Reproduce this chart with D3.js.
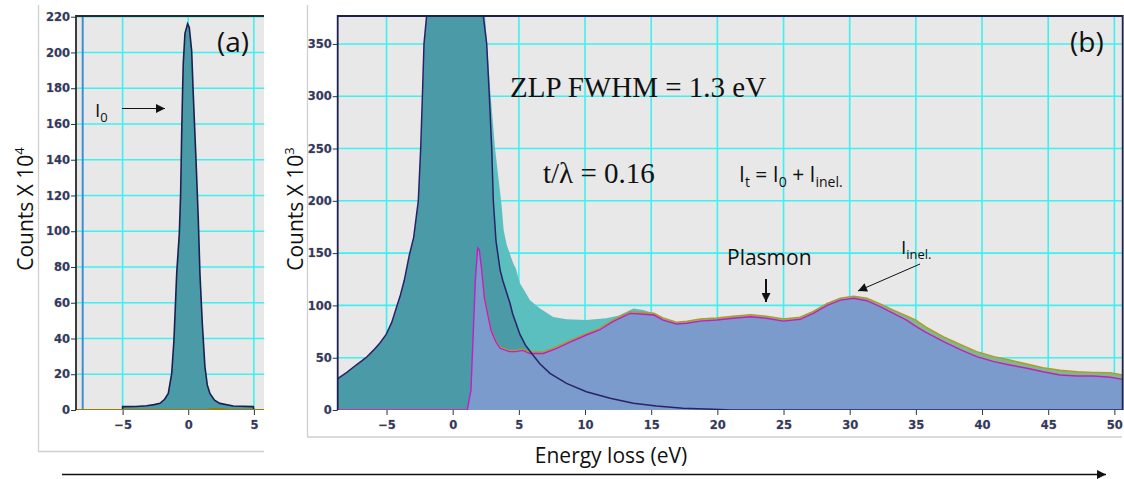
<!DOCTYPE html>
<html>
<head>
<meta charset="utf-8">
<script src="https://cdn.jsdelivr.net/npm/d3@7"></script>
<style>
  body { margin: 0; background: #fff; }
  .lbl { font-family: "Open Sans", sans-serif; fill: #111; }
  .serif { font-family: "Liberation Serif", serif; fill: #111; }
</style>
</head>
<body>
<svg width="1124" height="479"></svg>
<script>
// ---- data: [energy loss eV, counts] ----
// panel (a): zero-loss peak, counts x 10^4
const zlpA = [[-5.0,0],[-5.0,1.9],[-4.0,2.0],[-3.17,2.4],[-2.6,3.0],[-2.15,3.7],[-1.8,6],[-1.52,9.3],
  [-1.26,20.5],[-1.09,39],[-0.88,76.4],[-0.68,98.8],[-0.58,121],[-0.5,154.7],[-0.43,179],[-0.38,194],
  [-0.25,210.7],[-0.05,216],[0.08,214],[0.26,201],[0.38,177],[0.59,140],[0.76,108],[0.89,76.4],
  [1.07,48.5],[1.27,24.2],[1.45,14],[1.65,9.3],[2.0,5.5],[2.41,3.7],[3.43,2.2],[4.95,1.9],[5.0,0]];
const inelA = [[-8.55,0],[1.4,0],[1.8,0.5],[2.6,0.5],[3.0,0],[5.77,0]];
const markerA = -8.04;

// panel (b): counts x 10^3
const zlpB = [[-8.69,30],[-8.0,36],[-7.3,43],[-6.55,50],[-6.0,57],[-5.5,64],[-5.04,72],[-4.6,84],
  [-4.3,96],[-3.95,110],[-3.66,124],[-3.28,148],[-2.95,165],[-2.6,200],[-2.42,250],[-2.29,300],
  [-2.17,350],[-1.97,377],[-1.2,900],[0,2170],[1.2,900],[2.31,377],[2.57,350],[2.77,300],[2.95,250],
  [3.07,200],[3.27,162],[3.58,134],[3.78,124],[4.33,102],[4.53,92],[5.09,72],[5.5,62],[5.97,54],
  [6.6,44],[7.35,35],[8.6,25.5],[10.1,17.5],[11.9,11.2],[13.65,6.4],[15.4,3.8],[17.4,1.6],
  [19.7,0.7],[21,0],[50.63,0]];
const totalB = [[2.0,430],[2.44,377],[2.87,300],[3.2,250],[3.7,195],[3.85,172],[4.08,158],[4.58,140],
  [4.78,135],[5.09,121],[5.29,117],[5.84,105],[6.6,97],[7.6,89],[8.6,86.7],[10.1,86],[11.6,87.7],
  [12.5,90],[13.15,94],[13.65,97],[14.4,95.6],[15.2,92.4],[15.9,87.7],[16.9,83.5],[17.7,84],[18.7,86.5]];
const oliveB = [[-8.69,0],[1.2,0],[1.5,20],[1.7,70],[1.85,120],[2.0,140],[2.15,138],[2.39,110],
  [2.64,93],[2.9,77],[3.27,66],[3.58,60],[4.28,57],[4.78,57],[5.29,58],[5.84,55.5],[6.85,55.5],
  [7.86,60.5],[8.87,66.5],[10.1,73],[11.1,78],[12.1,86],[13.4,94],[14.2,93.5],[15.2,92.5],[15.9,88],
  [16.9,84],[17.7,84.8],[18.7,87],[19.95,88],[21.2,89.7],[22.5,91.2],[23.7,89.7],[25,87],[26.25,88.7],
  [27.25,94.4],[28.3,102],[29.3,107],[30.3,108.8],[31.3,106.8],[32.3,101.5],[33.3,95.5],[34.3,90],
  [35,86],[35.8,79],[37.1,70],[38.4,62.5],[39.6,55.8],[40.9,51],[42.1,47.8],[43.4,44],[44.6,40.5],
  [45.9,38],[47.2,36.6],[48.4,36],[49.7,35.7],[50.63,33.5]];
const inelB = [[-8.69,0],[1.1,0],[1.38,19],[1.56,76],[1.71,124],[1.89,155],[2.01,153],[2.19,134],
  [2.39,108],[2.64,92],[2.9,76],[3.27,65],[3.58,59],[4.28,55.8],[4.78,55.8],[5.29,57],[5.84,54],
  [6.85,54],[7.86,59],[8.87,65],[10.1,71.7],[11.1,76.5],[12.1,84.4],[13.4,92.4],[14.2,91.8],
  [15.2,90.8],[15.9,86],[16.9,82.2],[17.7,82.9],[18.7,85],[19.95,86],[21.2,87.7],[22.5,89.2],
  [23.7,87.7],[25,85],[26.25,86.7],[27.25,92.4],[28.3,100],[29.3,105],[30.3,106.8],[31.3,104.5],
  [32.3,98.8],[33.3,92.4],[34.3,86],[35,80],[35.8,74],[37.1,65.3],[38.4,57.4],[39.6,51],[40.9,46.2],
  [42.1,43],[43.4,39.9],[44.6,36.6],[45.9,33.5],[47.2,32.5],[48.4,32.5],[49.7,31.3],[50.63,29.3]];

const aXTicks = [-5, 0, 5];
const aYTicks = d3.range(0, 221, 20);
const bXTicks = d3.range(-5, 51, 5);
const bYTicks = d3.range(0, 351, 50);

const svg = d3.select("svg");
const defs = svg.append("defs");
defs.append("marker").attr("id", "head").attr("viewBox", "0 0 10 10")
  .attr("refX", 10).attr("refY", 5).attr("markerUnits", "userSpaceOnUse")
  .attr("markerWidth", 11).attr("markerHeight", 9).attr("orient", "auto")
  .append("path").attr("d", "M0,0 L10,5 L0,10 z").attr("fill", "#111");

const xa = d3.scaleLinear([-8.55, 5.77], [76, 264]);
const ya = d3.scaleLinear([0, 220.4], [410, 16]);
const xb = d3.scaleLinear([-8.69, 50.63], [337.7, 1122.7]);
const yb = d3.scaleLinear([0, 376.7], [410, 16]);

// outer panel frames
svg.append("path").attr("d", "M38.5,5 V451.5 H264").attr("fill", "none").attr("stroke", "#cfcfcf").attr("stroke-width", 1.3);
svg.append("path").attr("d", "M307.5,5 V437 H1122").attr("fill", "none").attr("stroke", "#cfcfcf").attr("stroke-width", 1.3);

function panel(id, x, y, xt, yt) {
  const [x0, x1] = x.range(), [y0, y1] = y.range();
  defs.append("clipPath").attr("id", id).append("rect")
    .attr("x", x0).attr("y", y1).attr("width", x1 - x0).attr("height", y0 - y1);
  const g = svg.append("g");
  g.append("rect").attr("x", x0).attr("y", y1).attr("width", x1 - x0).attr("height", y0 - y1).attr("fill", "#e8e8e8");
  const grid = g.append("g").attr("stroke", "#3ff0f0").attr("stroke-width", 1.6);
  grid.selectAll(".v").data(xt).join("line").attr("x1", x).attr("x2", x).attr("y1", y0).attr("y2", y1);
  grid.selectAll(".h").data(yt.filter(d => d > 0)).join("line").attr("y1", y).attr("y2", y).attr("x1", x0).attr("x2", x1);
  const plot = g.append("g").attr("clip-path", `url(#${id})`);
  return { g, plot, x0, x1, y0, y1 };
}

function styleTicks(sel) {
  sel.select(".domain").remove();
  sel.selectAll(".tick line").attr("stroke", "#333");
  sel.selectAll(".tick text").attr("font-family", "DejaVu Sans, sans-serif").attr("font-size", 11.5)
    .attr("font-weight", "bold").attr("fill", "#2a3a6a")
    .attr("stroke", "#e2b27a").attr("stroke-width", 0.5).attr("paint-order", "stroke");
}

function axes(p, x, y, xt, yt, leftColor) {
  const ax = p.g.append("g").attr("transform", `translate(0,${p.y0})`)
    .call(d3.axisBottom(x).tickValues(xt).tickSize(5).tickPadding(4).tickSizeOuter(0));
  styleTicks(ax);
  ax.selectAll(".tick text").attr("dy", "0.9em");
  const ay = p.g.append("g").attr("transform", `translate(${p.x0},0)`)
    .call(d3.axisLeft(y).tickValues(yt).tickSize(5).tickPadding(1).tickSizeOuter(0));
  styleTicks(ay);
  p.g.append("path").attr("d", `M${p.x0},${p.y0} V${p.y1} H${p.x1}` + (p.x1 > 1000 ? ` V${p.y0}` : ""))
    .attr("fill", "none").attr("stroke", leftColor).attr("stroke-width", 1.8);
}

const areaOf = (x, y) => d3.area().x(d => x(d[0])).y0(y(0)).y1(d => y(d[1]));
const lineOf = (x, y) => d3.line().x(d => x(d[0])).y(d => y(d[1]));

// ---- panel (a) ----
const pa = panel("clipA", xa, ya, aXTicks, aYTicks);
pa.plot.append("line").attr("x1", xa(markerA)).attr("x2", xa(markerA)).attr("y1", pa.y0).attr("y2", pa.y1)
  .attr("stroke", "#3f8fcf").attr("stroke-width", 2);
pa.plot.append("path").datum(zlpA).attr("d", areaOf(xa, ya)).attr("fill", "#4a9aa8");
pa.plot.append("path").datum(zlpA).attr("d", lineOf(xa, ya)).attr("fill", "none").attr("stroke", "#1b2050").attr("stroke-width", 1.6);
pa.plot.append("path").datum(inelA).attr("d", areaOf(xa, ya)).attr("fill", "#80b88c");
pa.plot.append("path").datum(inelA).attr("d", lineOf(xa, ya)).attr("fill", "none").attr("stroke", "#9a7a08").attr("stroke-width", 2);
axes(pa, xa, ya, aXTicks, aYTicks, "#2a2a2a");

// ---- panel (b) ----
const pb = panel("clipB", xb, yb, bXTicks, bYTicks);
pb.plot.append("path").datum(totalB).attr("d", areaOf(xb, yb)).attr("fill", "#5cbfbf");
pb.plot.append("path").datum(zlpB).attr("d", areaOf(xb, yb)).attr("fill", "#4a9aa8");
pb.plot.append("path").datum(oliveB).attr("d", areaOf(xb, yb)).attr("fill", "#80b88c");
pb.plot.append("path").datum(oliveB).attr("d", lineOf(xb, yb)).attr("fill", "none").attr("stroke", "#b09a2a").attr("stroke-width", 1.4);
pb.plot.append("path").datum(inelB).attr("d", areaOf(xb, yb)).attr("fill", "#7a9bcb");
pb.plot.append("path").datum(inelB).attr("d", lineOf(xb, yb)).attr("fill", "none").attr("stroke", "#c21fc2").attr("stroke-width", 1.4);
pb.plot.append("path").datum(zlpB).attr("d", lineOf(xb, yb)).attr("fill", "none").attr("stroke", "#2a2268").attr("stroke-width", 1.5);
axes(pb, xb, yb, bXTicks, bYTicks, "#1c2050");

// ---- texts ----
function ylabel(xpos, sup) {
  const t = svg.append("text").attr("class", "lbl").attr("transform", `translate(${xpos},209) rotate(-90)`)
    .attr("text-anchor", "middle").attr("font-size", 21).text("Counts X 10");
  t.append("tspan").attr("font-size", 13).attr("dy", -9).text(sup);
}
ylabel(33, "4");
ylabel(303, "3");

svg.append("text").attr("class", "lbl").attr("x", 611).attr("y", 463).attr("text-anchor", "middle")
  .attr("font-size", 21).text("Energy loss (eV)");
svg.append("text").attr("class", "lbl").attr("x", 217).attr("y", 52).attr("font-size", 28).text("(a)");
svg.append("text").attr("class", "lbl").attr("x", 1070).attr("y", 52).attr("font-size", 28).text("(b)");

svg.append("text").attr("class", "serif").attr("x", 510).attr("y", 97).attr("font-size", 29).text("ZLP FWHM = 1.3 eV");
svg.append("text").attr("class", "serif").attr("x", 543).attr("y", 183).attr("font-size", 29).text("t/λ = 0.16");

function sub(x, y, main, s, size) {
  const t = svg.append("text").attr("class", "lbl").attr("x", x).attr("y", y).attr("font-size", size);
  t.append("tspan").text(main);
  t.append("tspan").attr("font-size", size * 0.68).attr("dy", size * 0.27).text(s);
  return t;
}
sub(95, 116.5, "I", "0", 19);

const it = svg.append("text").attr("class", "lbl").attr("x", 739).attr("y", 181.5).attr("font-size", 21);
[["I", "t", " = "], ["I", "0", " + "], ["I", "inel.", ""]].forEach(([m, s, op]) => {
  it.append("tspan").text(m);
  it.append("tspan").attr("font-size", 14).attr("dy", 5).text(s);
  if (op) it.append("tspan").attr("dy", -5).text(op);
});

svg.append("text").attr("class", "lbl").attr("x", 727).attr("y", 265).attr("font-size", 21).text("Plasmon");
sub(901, 254, "I", "inel.", 19);

// arrows
const arrow = (x1, y1, x2, y2, w) => svg.append("line").attr("x1", x1).attr("y1", y1).attr("x2", x2).attr("y2", y2)
  .attr("stroke", "#111").attr("stroke-width", w).attr("marker-end", "url(#head)");
arrow(122, 108.5, 165, 108.5, 1.2);
arrow(766, 279, 766, 302, 2);
arrow(920, 264, 858, 291, 1);
arrow(62, 474.5, 1106, 474.5, 1.3);
</script>
</body>
</html>
